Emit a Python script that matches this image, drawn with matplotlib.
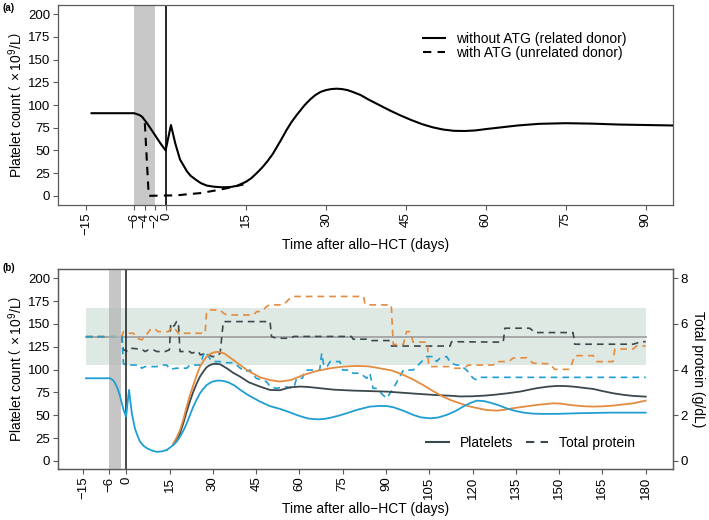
import matplotlib
matplotlib.use("Agg")
import matplotlib.pyplot as plt
import numpy as np
from matplotlib.lines import Line2D

plt.rcParams['font.family'] = ['Liberation Sans', 'DejaVu Sans']
plt.rcParams['mathtext.fontset'] = 'custom'
plt.rcParams['mathtext.rm'] = 'Liberation Sans'
plt.rcParams['mathtext.default'] = 'regular'
plt.rcParams['font.size'] = 9.5

# ---------------- panel (a) data ----------------
a_day = [-14, -6, -5, -4.5, -3.6, -2.4, -1.1, -0.1, 0.9, 1.7, 2.6, 3.9, 4.6, 5.6, 6.5,
         7.6, 9, 10.5, 12, 13.3, 15, 16, 17, 18, 19, 20, 20.8, 21.7, 22.6, 23.5, 24.5,
         26, 27, 28, 29, 30, 31, 32, 33, 34, 35, 36.5, 38, 40, 42, 44, 46, 48, 50,
         52, 54, 56, 58, 60, 63, 66, 70, 75, 80, 85, 90, 95]
a_without = [91, 91, 89, 87, 80, 69.6, 58, 50, 78, 58, 40, 27, 22, 17.6, 14,
             11.3, 10, 9.4, 9.6, 11, 15.5, 19.5, 25, 31, 38, 46, 54, 63, 72.5, 81, 89,
             100, 106, 111, 114.5, 116.5, 117.6, 118, 117.6, 116.5, 114.5, 111, 106, 100, 94, 88.5, 83.5, 79, 75.5,
             73, 71.6, 71.4, 72, 73.5, 75.5, 77.5, 79.3, 80, 79.5, 78.5, 78, 77.5]
a_with_day = [-4.0, -3.3, -3.2, 2, 4.5, 6.5, 8.2, 10, 11.5, 13, 14.5]
a_with = [80, 3, 0, 0.5, 2, 3, 4.8, 6.6, 8.5, 10.5, 12.5]

a_ticks = [-15, -6, -4, -2, 0, 15, 30, 45, 60, 75, 90]

# ---------------- panel (b) data ----------------
# platelets (x10^9/L); identical for all three before day ~14
b_common_day = [-14, -5.6, -4.5, -3.9, -3, -2.2, -1.0, -0.1, 0.9, 1.9, 3.0, 4.0, 4.75, 6, 7.1, 8.8, 10.5, 12.3, 14]
b_common = [90.5, 90.5, 88, 85, 79, 71, 56, 48.5, 77.7, 52, 35, 26.5, 21, 16.5, 14, 11.5, 10, 10.5, 12]

blue_day = [16.3, 17.5, 18.6, 19.8, 20.9, 22, 23.2, 24.4, 25.5, 26.7, 27.8, 29, 30.1, 31.3, 32.5, 34, 35.5,
            37.5, 39.4, 42, 44, 46.3, 49.8, 53.2, 56, 59, 61, 63, 65, 67, 69, 71, 73.5, 76.3, 80, 84.4,
            88, 90.5, 92.5, 96, 99.4, 102, 105.2, 108, 111, 114, 116.7, 119, 121.4, 124, 126, 129,
            131.7, 134.5, 137.5, 141, 144.4, 150, 156, 167.5, 180]
blue_pl = [17.5, 21.5, 26.6, 33.5, 41, 50, 59.5, 67.5, 74, 79, 83, 85.5, 87, 87.8, 88, 87.3, 85.8,
           82.5, 78, 72.5, 69, 65, 60, 57, 54, 50.4, 48.3, 46.5, 45.8, 45.6, 46.2, 47.5, 49.5, 52.2, 56, 59.5,
           60.3, 60, 58.8, 55, 50.4, 47.8, 46.7, 47.5, 50.4, 54.5, 59.5, 63.1, 66, 65.5, 63.9, 61,
           57.7, 55, 53, 51.8, 51.5, 51.6, 52.2, 52.9, 52.9]

orange_day = [16.3, 17.5, 18.6, 19.8, 20.9, 22, 23.2, 24.4, 25.5, 26.7, 27.8, 29, 30.1, 31.2, 32.3, 34,
              36, 39.4, 42.5, 46.3, 49.8, 53.2, 57, 61.3, 66, 70.6, 75, 79.8, 84, 87.9, 92, 96,
              99.5, 102.9, 106, 109.8, 112.5, 115.6, 118, 120.2, 124.8, 128.3, 131, 134, 138, 142.1,
              147.9, 150.5, 153.7, 158, 161.8, 165, 168.7, 172, 175.6, 180]
orange_pl = [19.3, 26, 34, 46, 59.5, 71.5, 83, 94, 103, 109.5, 114, 117, 118.6, 119.3, 119.2, 117.5,
             113, 105, 98, 91.6, 88.5, 86.9, 88.5, 94, 98.5, 101.4, 103.2, 104, 103.5, 101.4, 99, 94.2,
             89, 83, 77, 70.4, 66.5, 63.1, 60.5, 58.8, 55.8, 55.1, 56, 57.7, 59.5, 61.3,
             63.1, 62.8, 61.3, 60, 59.5, 59.8, 60.6, 61.8, 63.1, 66]

dark_day = [16.3, 17.5, 18.6, 19.8, 20.9, 22, 23.2, 24.4, 25.5, 26.7, 27.8, 29, 30.1, 31.2, 32.5, 35,
            37, 39.4, 42.5, 46.3, 49.8, 53.2, 56.7, 60.2, 63, 67.1, 72, 78.6, 84, 90.2, 96, 101.7,
            107, 113.3, 115.6, 120, 124, 127.1, 132, 136.4, 142.1, 146, 149.1, 152, 154.8, 158,
            161.8, 165, 168.7, 172, 175.6, 180]
dark_pl = [18.5, 24, 30.3, 42, 54, 65, 75.9, 85, 92.3, 98, 102.5, 105, 106.2, 106.3, 105.8, 101,
           96.5, 92.3, 86, 81.4, 77.7, 77.4, 80.6, 81.4, 81, 79.6, 78, 77, 76.5, 75.9, 74.6, 73.3,
           72.2, 71.2, 70.6, 70.8, 71.5, 72.3, 74, 75.9, 79.6, 81.3, 82.1, 82, 81.4, 80.2,
           78.8, 76.5, 74.1, 72.5, 71.2, 70.4]

# total protein (g/dL)
blue_tp_day = [-14, -1.6, -1.0, 0, 4.7, 5.3, 6.5, 10.5, 12.2, 14, 15.1, 17.4, 20.9, 22, 25.5, 26.7,
               27.3, 28.5, 29.6, 32.5, 33.6, 37.1, 38.2, 39.5, 41.1, 42.8, 44, 45, 48.6, 49.8, 52,
               55, 58, 59, 61, 62, 67, 67.7, 68.5, 69.6, 70.6, 74, 75, 77.5, 78.6, 81, 83.3,
               84.4, 85.5, 86.5, 90.2, 92.5, 94.8, 96, 99.4, 100.6, 102.9, 104, 106.5, 107.5, 108.7,
               111, 112.5, 114.4, 115.6, 117.9, 120.2, 121.4, 122.5, 180]
blue_tp = [5.44, 5.44, 4.25, 4.2, 4.2, 4.06, 4.13, 4.13, 4.2, 4.2, 4.01, 4.06, 4.06, 4.2, 4.2, 4.64,
           4.79, 4.57, 4.35, 4.35, 4.3, 4.3, 4.2, 4.06, 3.91, 3.98, 3.76, 3.62, 3.47, 3.25, 3.18,
           3.25, 3.18, 3.62, 3.62, 3.98, 3.98, 4.71, 4.13, 4.13, 4.35, 4.35, 3.98, 3.98, 3.84, 3.84, 3.62,
           3.84, 3.18, 3.18, 2.74, 3.18, 3.69, 3.98, 3.98, 4.13, 4.42, 4.57, 4.57, 4.35, 4.5,
           4.57, 4.28, 4.2, 4.2, 3.98, 3.62, 3.55, 3.66, 3.66]

orange_tp_day = [-14, -1.6, -1.0, 0.5, 2.5, 3.6, 5.3, 6.5, 8.2, 9.5, 11, 14.6, 15.7, 16.9, 18, 19.2,
                 20, 27.3, 27.8, 29, 32.5, 33.6, 34.8, 44, 45.2, 46.9, 48.6, 49.5, 54.4, 56.7, 57.8,
                 82.2, 82.7, 83.5, 91.8, 92.5, 96, 97.1, 98.3, 99.4, 104.3, 104.8, 112, 113.5, 117,
                 118.5, 127.1, 128.3, 132.5, 134, 138.7, 141, 146.8, 148.5, 153.7, 155.4, 161.8, 163,
                 168.7, 169.3, 175.6, 176.8, 180]
orange_tp = [5.44, 5.44, 5.66, 5.59, 5.59, 5.37, 5.3, 5.44, 5.74, 5.81, 5.66, 5.66, 5.85, 5.78, 5.59, 5.52,
             5.59, 5.59, 6.54, 6.61, 6.61, 6.47, 6.39, 6.39, 6.54, 6.54, 6.76, 6.83, 6.83, 7.12, 7.2,
             7.2, 6.87, 6.83, 6.83, 5.1, 5.1, 5.66, 5.66, 5.2, 5.2, 4.13, 4.13, 4.06, 4.06,
             4.2, 4.2, 4.35, 4.35, 4.5, 4.52, 4.28, 4.25, 4.01, 4.01, 4.61, 4.61, 4.35,
             4.35, 4.9, 4.9, 5.03, 5.03]

dark_tp_day = [-14, -1.6, -1.0, 0.7, 1.9, 5.3, 6.5, 7.6, 9.4, 10.5, 13.4, 14.9, 15.4, 16.5, 17.4, 18,
               18.6, 22, 22.6, 25, 25.6, 27.8, 29.6, 31.3, 32.5, 33.6, 49.8, 50.3, 52, 57, 58, 78,
               78.6, 84.4, 85, 91.3, 91.9, 112.2, 112.7, 130.6, 131.2, 139.8, 141.6, 154.8, 155.4,
               175.6, 176.8, 178, 180]
dark_tp = [5.44, 5.44, 4.86, 4.79, 4.93, 4.89, 4.79, 4.86, 4.86, 4.79, 4.79, 4.86, 6.03, 5.9, 6.1, 6.1,
           4.79, 4.79, 4.72, 4.79, 4.64, 4.72, 4.57, 4.57, 4.72, 6.1, 6.1, 5.44, 5.37, 5.37, 5.45, 5.45,
           5.33, 5.33, 5.27, 5.27, 5.03, 5.03, 5.22, 5.2, 5.81, 5.81, 5.62, 5.62, 5.11,
           5.11, 5.15, 5.22, 5.22]

tp_range = [4.2, 6.7]
tp_ref = 5.42
band_days = [-14, 180]
b_ticks = [-15, -6, 0, 15, 30, 45, 60, 75, 90, 105, 120, 135, 150, 165, 180]

col_dark = '#3b484d'
col_orange = '#e38b3f'
col_blue = '#1f9ed1'
spine_col = '#5a5a5a'

TICK = 9.5
LAB = 10
ylab = r'Platelet count $\left(\,\times10^{9}/L\right)$'
fig = plt.figure(figsize=(7.09, 5.20), dpi=100)

def style(ax):
    for s in ax.spines.values():
        s.set_color(spine_col)
        s.set_linewidth(0.9)
    ax.tick_params(colors='black', length=3.5, width=0.8, labelsize=TICK, pad=2)
    ax.tick_params(axis='both', color=spine_col)

# ---- (a) ----
ax = fig.add_axes([0.0818, 0.606, 0.8672, 0.384])
ax.axvspan(-6, -2, color='#c8c8c8', lw=0, zorder=0)
ax.axvline(0, color='black', lw=1.2, zorder=1)
ax.plot(a_day, a_without, color='black', lw=1.5, label='without ATG (related donor)', zorder=3)
ax.plot(a_with_day, a_with, color='black', lw=1.5, ls=(0, (4, 3)), label='with ATG (unrelated donor)', zorder=3)
ax.set_xlim(-20.3, 95.1)
ax.set_ylim(-10, 210)
ax.set_yticks(range(0, 201, 25))
ax.set_xticks(a_ticks)
ax.set_xticklabels([str(t).replace('-', '\u2212') for t in a_ticks], rotation=90)
ax.set_xlabel('Time after allo\u2212HCT (days)', fontsize=LAB, labelpad=2)
ax.set_ylabel(ylab, fontsize=LAB, labelpad=2)
style(ax)
ax.legend(loc='upper left', bbox_to_anchor=(0.582, 0.9), frameon=False, fontsize=LAB,
          handlelength=1.6, handletextpad=0.8, labelspacing=0.0, borderpad=0)
fig.text(0.004, 0.978, '(a)', fontsize=7, fontweight='bold')

# ---- (b) ----
bx2 = fig.add_axes([0.0818, 0.098, 0.8672, 0.385])
bx = bx2.twinx()
# left axis (platelets) on the left side, protein on the right
bx2.yaxis.tick_right()
bx2.yaxis.set_label_position('right')
bx.yaxis.tick_left()
bx.yaxis.set_label_position('left')
bx.set_zorder(bx2.get_zorder() + 1)
bx.patch.set_visible(False)

bx2.fill_between(band_days, tp_range[0], tp_range[1], color='#dfe9e3', lw=0, zorder=0)
bx2.plot(band_days, [tp_ref, tp_ref], color='#a3a3a3', lw=1.3, zorder=1)
dash = (0, (4, 3))
bx2.plot(dark_tp_day, dark_tp, color=col_dark, lw=1.2, ls=dash, zorder=2)
bx2.plot(orange_tp_day, orange_tp, color=col_orange, lw=1.2, ls=dash, zorder=2)
bx2.plot(blue_tp_day, blue_tp, color=col_blue, lw=1.2, ls=dash, zorder=2)
bx2.set_ylim(-8.8 / 25, 210.2 / 25)
bx2.set_yticks([0, 2, 4, 6, 8])
bx2.set_ylabel('Total protein (g/dL)', rotation=270, fontsize=LAB, labelpad=12)

bx.axvspan(-6, -2, color='#b4b4b4', alpha=0.75, lw=0, zorder=0)
bx.axvline(0, color='#2b2b2b', lw=1.2, zorder=1)
bx.plot(dark_day, dark_pl, color=col_dark, lw=1.3, zorder=3)
bx.plot(orange_day, orange_pl, color=col_orange, lw=1.3, zorder=3)
bx.plot(b_common_day, b_common, color=col_blue, lw=1.3, zorder=4)
bx.plot([b_common_day[-1]] + blue_day, [b_common[-1]] + blue_pl, color=col_blue, lw=1.3, zorder=4)
bx.set_ylim(-8.8, 210.2)
bx.set_yticks(range(0, 201, 25))
bx.set_ylabel(ylab, fontsize=LAB, labelpad=2)
bx2.set_xlim(-23.7, 189.4)
bx2.set_xticks(b_ticks)
bx2.set_xticklabels([str(t).replace('-', '\u2212') for t in b_ticks], rotation=90)
bx2.set_xlabel('Time after allo\u2212HCT (days)', fontsize=LAB, labelpad=2)
style(bx)
style(bx2)

handles = [Line2D([], [], color=col_dark, lw=1.5), Line2D([], [], color=col_dark, lw=1.5, ls=dash)]
bx.legend(handles, ['Platelets', 'Total protein'], loc='lower left', bbox_to_anchor=(0.588, 0.06),
          ncol=2, frameon=False, fontsize=LAB, handlelength=1.6, handletextpad=0.8,
          columnspacing=0.9, borderpad=0)
fig.text(0.004, 0.478, '(b)', fontsize=7, fontweight='bold')

fig.savefig('out.png', dpi=100)
